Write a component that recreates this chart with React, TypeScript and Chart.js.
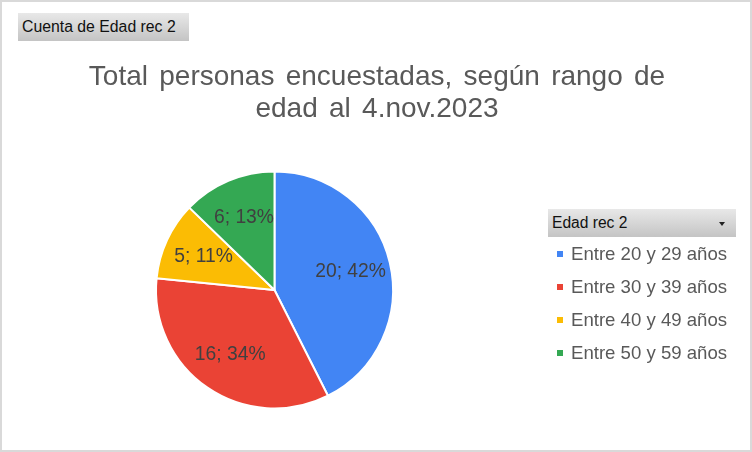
import React, { useEffect, useRef } from "react";
import { Chart, registerables } from "chart.js";

Chart.register(...registerables);

const categories = ["Entre 20 y 29 años", "Entre 30 y 39 años", "Entre 40 y 49 años", "Entre 50 y 59 años"];
const counts = [20, 16, 5, 6];
const colors = ["#4285F4", "#EA4335", "#FBBC04", "#34A853"];
const titleLines = ["Total personas encuestadas, según rango de", "edad al 4.nov.2023"];
const fieldButtonText = "Cuenta de Edad rec 2";
const legendTitle = "Edad rec 2";

const FONT = "'Liberation Sans', Arial, sans-serif";

// percentages rounded so that they add up to 100 (largest remainder)
function roundedPercents(values: number[]): number[] {
  const total = values.reduce((a, b) => a + b, 0);
  const raw = values.map((v) => (v / total) * 100);
  const floors = raw.map((r) => Math.floor(r));
  let left = 100 - floors.reduce((a, b) => a + b, 0);
  const order = raw.map((r, i) => [r - Math.floor(r), i]).sort((a, b) => b[0] - a[0]);
  for (let k = 0; k < order.length && left > 0; k++, left--) floors[order[k][1]] += 1;
  return floors;
}

const overlay = {
  id: "overlay",
  afterDatasetsDraw(chart: any) {
    const ctx = chart.ctx as CanvasRenderingContext2D;
    const meta = chart.getDatasetMeta(0);
    const data = chart.data.datasets[0].data as number[];
    const pcts = roundedPercents(data);
    ctx.save();
    // data labels
    ctx.font = `19.3px ${FONT}`;
    ctx.fillStyle = "#404040";
    ctx.textAlign = "center";
    ctx.textBaseline = "middle";
    meta.data.forEach((arc: any, i: number) => {
      const p = arc.getProps(["x", "y", "startAngle", "endAngle", "outerRadius"], true);
      const mid = (p.startAngle + p.endAngle) / 2;
      const r = p.outerRadius * 0.66;
      ctx.fillText(`${data[i]}; ${pcts[i]}%`, p.x + Math.cos(mid) * r, p.y + Math.sin(mid) * r);
    });
    // title
    ctx.font = `28px ${FONT}`;
    ctx.fillStyle = "#595959";
    ctx.textBaseline = "alphabetic";
    try { (ctx as any).wordSpacing = "3.5px"; } catch (e) {}
    titleLines.forEach((line, i) => ctx.fillText(line, 377, 85 + i * 32));
    try { (ctx as any).wordSpacing = "0px"; } catch (e) {}
    // legend
    ctx.textAlign = "left";
    ctx.textBaseline = "middle";
    ctx.font = `18.6px ${FONT}`;
    (chart.data.labels as string[]).forEach((lab, i) => {
      const cy = 255 + i * 33;
      ctx.fillStyle = colors[i];
      ctx.fillRect(557, cy - 4, 6, 6);
      ctx.fillStyle = "#595959";
      ctx.fillText(lab, 571, cy);
    });
    ctx.restore();
  },
};

export default function App() {
  const ref = useRef<HTMLCanvasElement>(null);
  useEffect(() => {
    const chart = new Chart(ref.current!, {
      type: "pie",
      data: {
        labels: categories,
        datasets: [{ data: counts, backgroundColor: colors, borderColor: "#ffffff", borderWidth: 2 }],
      },
      options: {
        responsive: false,
        animation: false,
        layout: { padding: { left: 155, right: 358, top: 170.5, bottom: 42.5 } },
        plugins: { legend: { display: false }, tooltip: { enabled: false }, title: { display: false } },
      },
      plugins: [overlay],
    } as any);
    return () => chart.destroy();
  }, []);

  const btn: React.CSSProperties = {
    position: "absolute",
    background: "linear-gradient(#e8e8e8, #c4c4c4)",
    color: "#111",
    boxSizing: "border-box",
    whiteSpace: "nowrap",
    fontFamily: FONT,
  };

  return (
    <div style={{ position: "fixed", left: 0, top: 0, width: 752, height: 452, background: "#fff", overflow: "hidden" }}>
      <div style={{ position: "absolute", left: 0, top: 0, width: 752, height: 452, border: "2px solid #d9d9d9", boxSizing: "border-box" }} />
      <canvas ref={ref} width={752} height={452} style={{ position: "absolute", left: 0, top: 0, width: 752, height: 452 }} />
      <div style={{ ...btn, left: 18, top: 13, width: 171, height: 28, fontSize: 15.8, lineHeight: "28px", paddingLeft: 4 }}>{fieldButtonText}</div>
      <div style={{ ...btn, left: 548, top: 209, width: 188, height: 28, fontSize: 15.6, lineHeight: "28px", paddingLeft: 4 }}>
        {legendTitle}
        <div style={{ position: "absolute", left: 171, top: 13, width: 0, height: 0, borderLeft: "3.5px solid transparent", borderRight: "3.5px solid transparent", borderTop: "4px solid #222" }} />
      </div>
    </div>
  );
}
